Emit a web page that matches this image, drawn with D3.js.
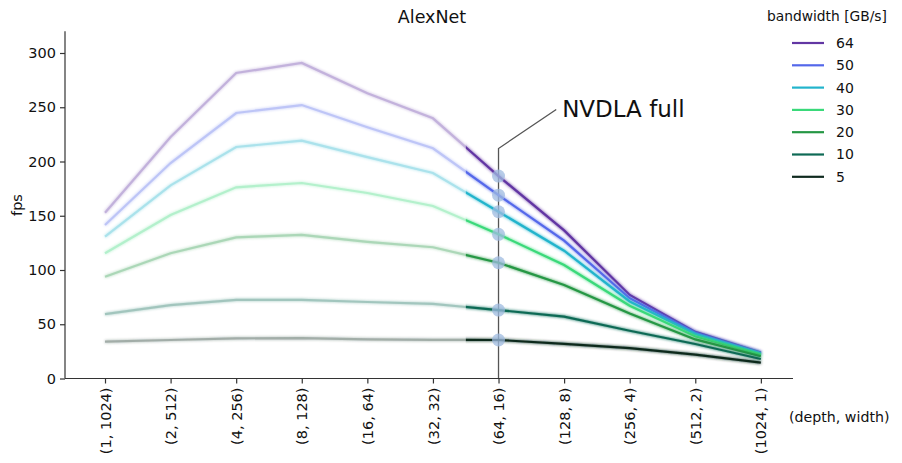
<!DOCTYPE html>
<html><head><meta charset="utf-8">
<script src="https://cdn.jsdelivr.net/npm/d3@7"></script>
<style>body{margin:0;background:#fff}svg{font-family:"DejaVu Sans",sans-serif}</style>
</head><body>
<svg id="c" width="902" height="463"></svg>
<script>
const categories = ["(1, 1024)","(2, 512)","(4, 256)","(8, 128)","(16, 64)","(32, 32)","(64, 16)","(128, 8)","(256, 4)","(512, 2)","(1024, 1)"];
const bandwidths = ["64","50","40","30","20","10","5"];
const colors = ["#6236a3","#5468ea","#22b4cc","#3ad97a","#259744","#0e6a55","#0f2a1f"];
const fps64 = [152.8,222.6,281.6,290.8,262.9,239.8,186.6,136.5,77,43,24];
const fps50 = [141.5,198.6,244.7,252,231.5,212.2,169,127,74,42,23.5];
const fps40 = [130.7,178,213.4,219.2,204,189.4,153.7,117.8,71,41,23];
const fps30 = [115.4,150.7,176.2,180.2,171,159,132.9,104.6,67,39,22];
const fps20 = [93.8,115.4,130.1,132.3,126,121,106.7,86.2,60,36,20.5];
const fps10 = [59.4,67.7,72.4,72.4,70.5,68.7,63.1,57,44,31.8,18];
const fps5  = [33.9,35.5,37,37.3,36,35.6,35.5,32,28,22,14.6];
const series = [fps64,fps50,fps40,fps30,fps20,fps10,fps5];
const yTicks = [0,50,100,150,200,250,300];
const highlightIndex = 6;
const annotation = "NVDLA full";

const svg = d3.select("#c");
const x = d3.scaleLinear().domain([-0.61,10.49]).range([65,793]);
const y = d3.scaleLinear().domain([0,320]).range([378.5,31.3]);

const defs = svg.append("defs");
const f = defs.append("filter").attr("id","glow").attr("x","-10%").attr("y","-50%").attr("width","120%").attr("height","200%");
f.append("feGaussianBlur").attr("in","SourceGraphic").attr("stdDeviation",1.6).attr("result","b");
const m = f.append("feMerge");
m.append("feMergeNode").attr("in","b");
m.append("feMergeNode").attr("in","SourceGraphic");
defs.append("clipPath").attr("id","left").append("rect")
  .attr("x",0).attr("y",0).attr("width",x(highlightIndex-0.5)).attr("height",463);
defs.append("clipPath").attr("id","right").append("rect")
  .attr("x",x(highlightIndex-0.5)).attr("y",0).attr("width",902).attr("height",463);

const line = d3.line().x((d,i)=>x(i)).y(d=>y(d));

// annotation line
const hx = x(highlightIndex);
svg.append("path")
  .attr("d", d3.line()([[hx,y(0)],[hx,y(212)],[x(highlightIndex+0.88),y(248)]]))
  .attr("fill","none").attr("stroke","#555").attr("stroke-width",1.3);
svg.append("text").attr("x",x(highlightIndex+0.97)).attr("y",y(248)+8)
  .attr("font-size",23).attr("fill","#111").text(annotation);

// lines
series.forEach((s,k)=>{
  svg.append("path").attr("d",line(s)).attr("fill","none").attr("stroke",colors[k])
    .attr("stroke-width",2.2).attr("opacity",0.38).attr("filter","url(#glow)").attr("clip-path","url(#left)");
});
series.forEach((s,k)=>{
  svg.append("path").attr("d",line(s)).attr("fill","none").attr("stroke",colors[k])
    .attr("stroke-width",2.2).attr("filter","url(#glow)").attr("clip-path","url(#right)");
});
// dots
svg.selectAll("circle.hl").data(series).join("circle")
  .attr("cx",hx).attr("cy",s=>y(s[highlightIndex])).attr("r",6.5)
  .attr("fill","#9fbbe0").attr("opacity",0.75);

// axes
const yAxis = svg.append("g").attr("transform","translate(65,0)")
  .call(d3.axisLeft(y).tickValues(yTicks).tickSize(5).tickPadding(4));
const xAxis = svg.append("g").attr("transform","translate(0,378.5)")
  .call(d3.axisBottom(x).tickValues(d3.range(categories.length)).tickFormat(i=>categories[i]).tickSize(5));
[yAxis,xAxis].forEach(g=>{
  g.select(".domain").attr("stroke","#333").attr("stroke-width",1.2);
  g.selectAll(".tick line").attr("stroke","#333").attr("stroke-width",1.2);
  g.selectAll("text").attr("font-size",14.5).attr("fill","#111").attr("font-family","DejaVu Sans");
});
yAxis.select(".domain").attr("d","M0,378.5V31.3");
xAxis.select(".domain").attr("d","M65,0H793");
xAxis.selectAll(".tick text").attr("transform","rotate(-90)").attr("text-anchor","end")
  .attr("x",-9).attr("y",0).attr("dy","0.35em");

svg.append("text").attr("x",432).attr("y",23).attr("text-anchor","middle").attr("font-size",17.5).attr("fill","#111").text("AlexNet");
svg.append("text").attr("transform","translate(22,205) rotate(-90)").attr("text-anchor","middle").attr("font-size",14.5).attr("fill","#111").text("fps");
svg.append("text").attr("x",789).attr("y",422).attr("font-size",14.2).attr("fill","#111").text("(depth, width)");

// legend
const lg = svg.append("g");
lg.append("text").attr("x",767).attr("y",21).attr("font-size",13.8).attr("fill","#111").text("bandwidth [GB/s]");
bandwidths.forEach((b,k)=>{
  const yy = 43 + k*22.3;
  lg.append("line").attr("x1",792).attr("x2",824).attr("y1",yy).attr("y2",yy).attr("stroke",colors[k]).attr("stroke-width",2.2);
  lg.append("text").attr("x",836).attr("y",yy).attr("dy","0.35em").attr("font-size",14).attr("fill","#111").text(b);
});
</script>
</body></html>
